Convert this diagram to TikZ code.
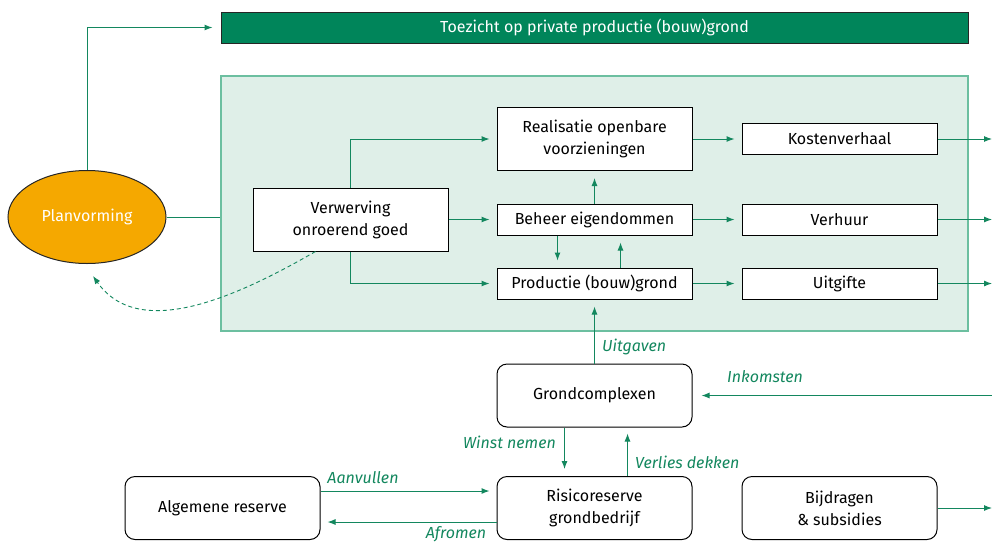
\documentclass[tikz,border=0pt]{standalone}
\usepackage{fontspec}
\setmainfont{Fira Sans}
\usetikzlibrary{%
    arrows.meta,
    positioning,
    shapes.geometric
}
\definecolor{bargreen}{HTML}{00855A}
\definecolor{panelfill}{HTML}{DFEFE8}
\definecolor{panelline}{HTML}{6CBFA0}
\definecolor{linegreen}{HTML}{13875E}
\definecolor{planorange}{HTML}{F5A800}
\tikzset{
    flowline/.style = {draw=linegreen, line width=1pt},
    flowarrow/.style = {flowline, shorten >=7pt, -{Latex[length=8pt,width=6pt]}},
    stepbox/.style = {draw, fill=white, line width=1pt, minimum width=195pt,
        minimum height=31pt, inner sep=0pt, align=center,
        font=\fontsize{16}{22}\selectfont},
    tallbox/.style = {stepbox, minimum height=63pt},
    potbox/.style = {tallbox, rounded corners=10pt},
    flowlabel/.style = {font=\fontsize{16}{20}\selectfont\itshape, text=linegreen, inner sep=0pt}
}

\begin{document}
\begin{tikzpicture}[x=1pt,y=-1pt]
    \useasboundingbox (0,0) rectangle (992,544);

    % kaders
    \node[draw=black!85, fill=bargreen, line width=1pt, minimum width=747pt, minimum height=31pt,
        inner sep=0pt, text=white, font=\fontsize{16}{20}\selectfont] (toezicht) at (594.5,27.5)
        {Toezicht op private productie (bouw)grond};
    \node[draw=panelline, fill=panelfill, line width=1.2pt, minimum width=747pt,
        minimum height=255pt] (kader) at (594.5,203.5) {};
    \node[ellipse, draw=black!85, fill=planorange, line width=1pt, minimum width=158pt,
        minimum height=93pt, text=white, font=\fontsize{16}{20}\selectfont] (planvorming) at (87,217)
        {Planvorming};

    % binnen het kader
    \node[tallbox] (verwerving) at (350.5,219.5) {Verwerving\\onroerend goed};
    \node[tallbox] (realisatie) at (594.5,139) {Realisatie openbare\\voorzieningen};
    \node[stepbox] (beheer) at (594.5,219.5) {Beheer eigendommen};
    \node[stepbox] (productie) at (594.5,283.5) {Productie (bouw)grond};
    \node[stepbox] (kosten) [right=49pt of realisatie] {Kostenverhaal};
    \node[stepbox] (verhuur) [right=49pt of beheer] {Verhuur};
    \node[stepbox] (uitgifte) [right=49pt of productie] {Uitgifte};

    % potten
    \node[potbox] (grondcomplexen) at (594.5,395.5) {Grondcomplexen};
    \node[potbox] (risico) at (594.5,508) {Risicoreserve\\grondbedrijf};
    \node[potbox] (algemene) [left=176pt of risico] {Algemene reserve};
    \node[potbox] (bijdragen) [right=49pt of risico] {Bijdragen\\\& subsidies};

    \foreach \n in {kosten,verhuur,uitgifte,bijdragen}
        \coordinate (uit-\n) at (\n.east -| 999,0);
    \coordinate (in-grond) at (grondcomplexen.east -| 992,0);

    \draw[flowarrow, shorten >=8pt] (planvorming.north) |- (toezicht.west);
    \draw[flowline] (planvorming.east) -- (planvorming.east -| kader.west);
    \draw[flowline, dashed, dash pattern=on 4pt off 3pt, line width=0.9pt,
        -{Latex[length=8pt,width=6pt]}]
        ([xshift=-35pt]verwerving.south) .. controls +(-150:90pt) and +(-55:80pt)
        .. ([shift={(6pt,-12pt)}]planvorming.south);

    \draw[flowarrow] (verwerving.north) |- (realisatie.west);
    \draw[flowarrow] (verwerving.east) -- (beheer.west);
    \draw[flowarrow] (verwerving.south) |- (productie.west);

    \foreach \a/\b in {realisatie/kosten, beheer/verhuur, productie/uitgifte}
        \draw[flowarrow] (\a.east) -- (\b.west);
    \foreach \n in {kosten,verhuur,uitgifte,bijdragen}
        \draw[flowarrow] (\n.east) -- (uit-\n);

    \draw[flowarrow] (beheer.north) -- (realisatie.south);
    \draw[flowarrow] ([xshift=-37pt]beheer.south) -- ([xshift=-37pt]productie.north);
    \draw[flowarrow] ([xshift=26pt]productie.north) -- ([xshift=26pt]beheer.south);

    \draw[flowarrow] (grondcomplexen.north) -- (productie.south);
    \node[flowlabel, anchor=west] (uitgaven) at (602,347) {Uitgaven};
    \draw[flowarrow, shorten >=9pt] (in-grond) -- (grondcomplexen.east);
    \node[flowlabel] (inkomsten) at (765,377) {Inkomsten};

    \draw[flowarrow] ([xshift=-30pt]grondcomplexen.south) -- ([xshift=-30pt]risico.north);
    \node[flowlabel, anchor=east] (winst) at (556,442) {Winst nemen};
    \draw[flowarrow, shorten >=6pt] ([xshift=33pt]risico.north) -- ([xshift=33pt]grondcomplexen.south);
    \node[flowlabel, anchor=west] (verlies) at (635,462) {Verlies dekken};

    \draw[flowarrow] ([yshift=17pt]algemene.east) -- ([yshift=17pt]risico.west);
    \node[flowlabel] (aanvullen) at (363,478) {Aanvullen};
    \draw[flowarrow] ([yshift=-14pt]risico.west) -- ([yshift=-14pt]algemene.east);
    \node[flowlabel] (afromen) at (456,534) {Afromen};
\end{tikzpicture}
\end{document}
